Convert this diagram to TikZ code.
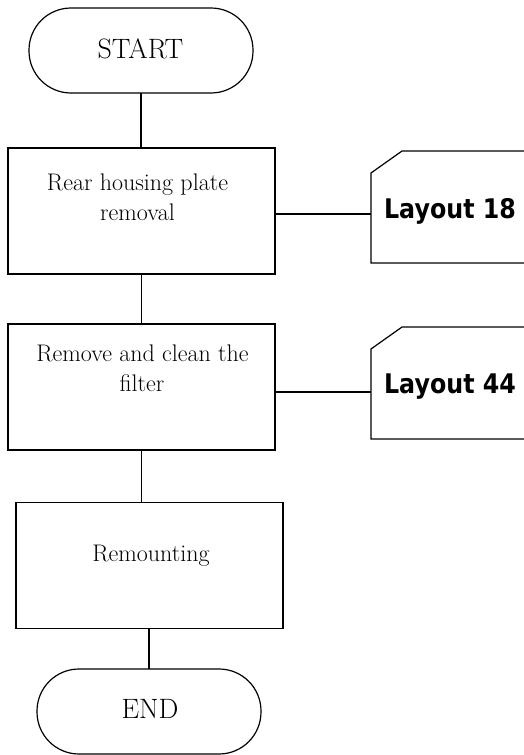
\documentclass[tikz,border=0pt]{standalone}
\usepackage{fontspec}
\newfontfamily\cardfont[FakeStretch=0.88]{DejaVu Sans}
\begin{document}
\begin{tikzpicture}[x=1pt,y=-1pt,
  every node/.style={inner sep=0pt,outer sep=0pt},
  line/.style={draw=black,line width=1.2pt},
  term/.style={line, rectangle, rounded corners=42pt, minimum width=224pt, minimum height=85pt},
  proc/.style={line, rectangle, minimum width=267pt, minimum height=126pt},
  card/.style={rectangle, minimum width=160pt, minimum height=112pt},
  txt/.style={anchor=base, font=\fontsize{24}{29}\selectfont},
  ttxt/.style={anchor=base, font=\fontsize{28}{34}\selectfont},
  ctxt/.style={anchor=base, font=\fontsize{27}{32}\selectfont\cardfont\bfseries}
]
\useasboundingbox (0,0) rectangle (524,755);
\clip (0,0) rectangle (524,755);

% terminals
\node[term] (start) at (141,50.5) {};
\node[ttxt] (startt) at (140.5,58) {START};
\node[term] (end) at (149,711.5) {};
\node[ttxt] (endt) at (150,718) {END};

% process boxes
\node[proc] (b1) at (141.5,211) {};
\node[txt] (b1a) at (137.5,190) {Rear housing plate};
\node[txt] (b1b) at (137.5,220) {removal};

\node[proc] (b2) at (141.5,387) {};
\node[txt] (b2a) at (142.5,361) {Remove and clean the};
\node[txt] (b2b) at (142,391) {filter};

\node[proc] (b3) at (149.5,565.5) {};
\node[txt] (b3a) at (151,561) {Remounting};

% cards
\node[card] (c1) at (451,207) {};
\draw[line] (c1.south east) -- (c1.south west) -- ([yshift=-22pt]c1.north west)
  -- ([xshift=31pt]c1.north west) -- (c1.north east);
\node[ctxt] (c1t) at (450,218) {Layout 18};

\node[card] (c2) at (451,383) {};
\draw[line] (c2.south east) -- (c2.south west) -- ([yshift=-22pt]c2.north west)
  -- ([xshift=31pt]c2.north west) -- (c2.north east);
\node[ctxt] (c2t) at (450,393) {Layout 44};

% connectors
\draw[line] (start.south) -- (start.south |- b1.north);
\draw[line] (b1.south) -- (b1.south |- b2.north);
\draw[line] (b2.south) -- (b2.south |- b3.north);
\draw[line] (end.north |- b3.south) -- (end.north);
\draw[line] ([yshift=-3pt]b1.east) -- ([yshift=-3pt]b1.east -| c1.west);
\draw[line] ([yshift=-5pt]b2.east) -- ([yshift=-5pt]b2.east -| c2.west);
\end{tikzpicture}
\end{document}
